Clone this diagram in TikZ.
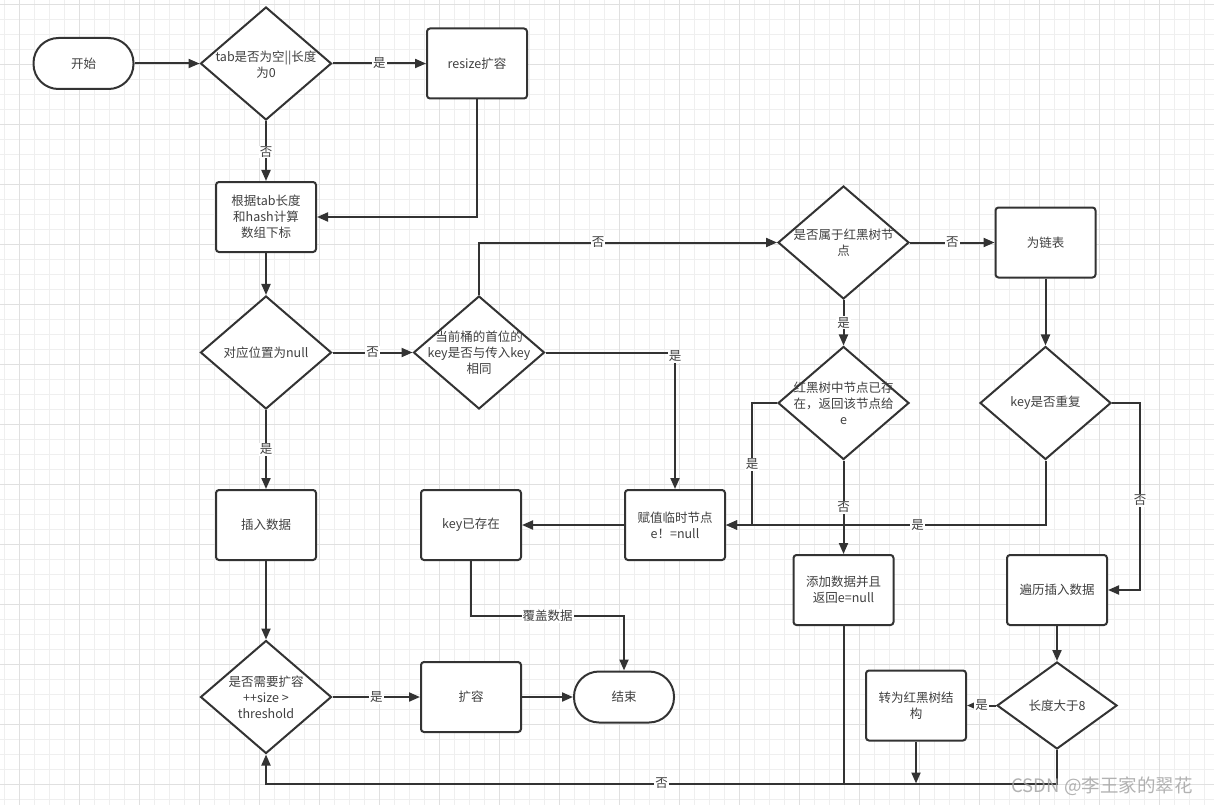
\documentclass[tikz,border=0pt]{standalone}
\usepackage{fontspec}
\setmainfont{Noto Sans CJK SC}
\usetikzlibrary{arrows.meta,shapes.geometric,calc}
\definecolor{ink}{HTML}{333333}
\definecolor{txtc}{HTML}{404040}
\definecolor{gminor}{HTML}{EFEFEF}
\definecolor{gmajor}{HTML}{E0E0E0}
\begin{document}
\begin{tikzpicture}[x=1pt,y=-1pt,
  box/.style={draw=ink,line width=2pt,rounded corners=3pt,fill=white,minimum width=100pt,minimum height=70pt,inner sep=0pt,text=txtc,font=\fontsize{12.5}{16}\selectfont,align=center},
  term/.style={draw=ink,line width=2pt,rounded corners=25pt,fill=white,minimum width=100pt,minimum height=51pt,inner sep=0pt,text=txtc,font=\fontsize{12.5}{16}\selectfont},
  dia/.style={draw=ink,line width=2pt,diamond,fill=white,minimum width=131pt,minimum height=113pt,inner sep=0pt},
  txt/.style={text=txtc,font=\fontsize{12.5}{16}\selectfont,align=center,inner sep=0pt},
  lab/.style={text=txtc,font=\fontsize{12.5}{14}\selectfont,fill=white,inner sep=1pt},
  arr/.style={draw=ink,line width=2pt,-{Triangle[length=11pt,width=9pt]}},
  ln/.style={draw=ink,line width=2pt}
]
\useasboundingbox (0,0) rectangle (1214,805);
\fill[white] (0,0) rectangle (1214,805);
\foreach \i in {0,...,80} \draw[gminor,line width=1pt] ({4.3+15*\i},0) -- ({4.3+15*\i},805);
\foreach \i in {0,...,53} \draw[gminor,line width=1pt] (0,{4.3+15*\i}) -- (1214,{4.3+15*\i});
\foreach \i in {0,...,20} \draw[gmajor,line width=1pt] ({19.3+60*\i},0) -- ({19.3+60*\i},805);
\foreach \i in {0,...,13} \draw[gmajor,line width=1pt] (0,{4.3+60*\i}) -- (1214,{4.3+60*\i});

% nodes
\node[term] (start) at (83.5,63.5) {开始};
\node[dia] (d1) at (266,63.5) {};
\node[txt] (d1t) at (266,65) {tab是否为空||长度\\为0};
\node[box] (resize) at (477,63.5) {resize扩容};
\node[box] (calc) at (266,217) {根据tab长度\\和hash计算\\数组下标};
\node[dia] (d2) at (266,352.5) {};
\node[txt] (d2t) at (266,352.5) {对应位置为null};
\node[dia] (d3) at (479,352.5) {};
\node[txt] (d3t) at (479,353) {当前桶的首位的\\key是否与传入key\\相同};
\node[dia] (d4) at (843.5,242.5) {};
\node[txt] (d4t) at (843.5,243) {是否属于红黑树节\\点};
\node[box] (list) at (1045.5,242.5) {为链表};
\node[dia] (d5) at (843.5,403) {};
\node[txt] (d5t) at (843.5,403) {红黑树中节点已存\\在，返回该节点给\\e};
\node[dia] (d6) at (1045.5,403) {};
\node[txt] (d6t) at (1045.5,403) {key是否重复};
\node[box] (insert) at (266,525) {插入数据};
\node[box] (exist) at (471,525) {key已存在};
\node[box] (assign) at (675,525) {赋值临时节点\\e！=null};
\node[box] (add) at (843.5,590) {添加数据并且\\返回e=null};
\node[box] (trav) at (1057,590) {遍历插入数据};
\node[box] (tree) at (916,705.5) {转为红黑树结\\构};
\node[dia,minimum width=120pt,minimum height=87pt] (d7) at (1057,705.5) {};
\node[txt] (d7t) at (1057,705.5) {长度大于8};
\node[dia] (d8) at (266,697) {};
\node[txt] (d8t) at (266,697) {是否需要扩容\\++size >\\threshold};
\node[box] (expand) at (471,697) {扩容};
\node[term] (end) at (624,697) {结束};

\coordinate (bot) at (0,783.5);
\coordinate (ov) at (624,616);
\coordinate (l5) at (752,403);
\coordinate (r6) at (1140,403);

% connectors
\draw[arr] (start) -- (d1);
\draw[arr] (d1) -- node[lab]{是} (resize);
\draw[arr] (d1) -- node[lab,yshift=-1pt]{否} (calc);
\draw[arr] (resize.south) |- (calc.east);
\draw[arr] (calc) -- (d2);
\draw[arr] (d2) -- node[lab]{否} (d3);
\draw[arr] (d2) -- node[lab]{是} (insert);
\draw[arr] (insert) -- (d8);
\draw[arr] (d8) -- node[lab]{是} (expand);
\draw[arr] (expand) -- (end);
\draw[arr] (assign) -- (exist);
\draw[arr] (exist.south) |- node[lab,pos=0.75]{覆盖数据} (ov) -- (end.north);
\draw[arr] (d3.east) -| node[lab,pos=0.5,yshift=-4pt]{是} (assign.north);
\draw[arr] (d3.north) |- node[lab,pos=0.7]{否} (d4.west);
\draw[arr] (d4) -- node[lab]{否} (list);
\draw[arr] (d4) -- node[lab]{是} (d5);
\draw[arr] (list) -- (d6);
\draw[arr] (d5) -- node[lab]{否} (add);
\draw[arr] (d5.west) -- (l5) |- node[lab,pos=0.25]{是} (assign.east);
\draw[arr] (d6.south) |- node[lab,pos=0.7]{是} (assign.east);
\draw[arr] (d6.east) -- (r6) |- node[lab,pos=0.26]{否} (trav.east);
\draw[arr] (trav) -- (d7);
\draw[arr] (d7) -- node[lab]{是} (tree);
\draw[arr] (tree.south) -- (tree.south |- bot);
\draw[ln] (add.south) -- (add.south |- bot);
\draw[arr] (d7.south) -- (d7.south |- bot) -- node[lab]{否} (d8.south |- bot) -- (d8.south);

\node[font=\fontsize{18.5}{19}\selectfont,text=gray!75,opacity=0.8,inner sep=0pt] (wm) at (1102,786) {CSDN @李王家的翠花};
\end{tikzpicture}
\end{document}
